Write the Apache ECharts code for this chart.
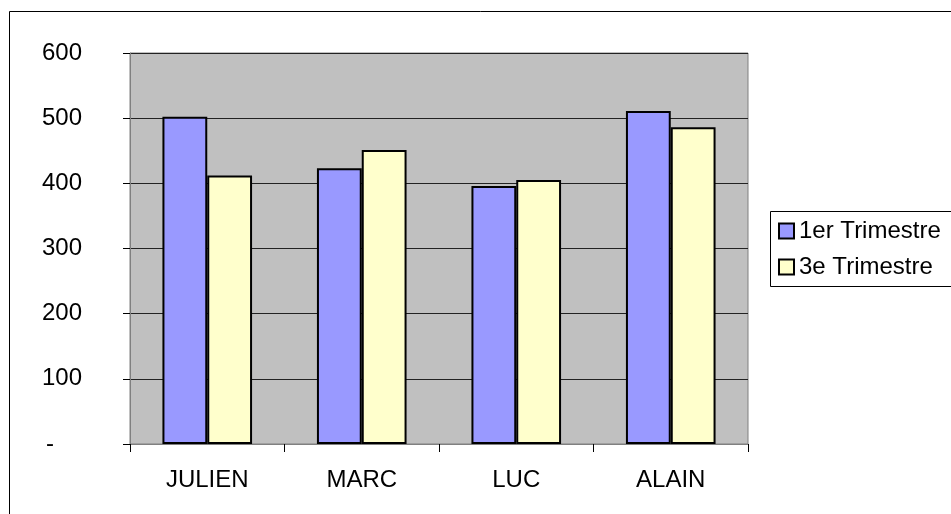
<!DOCTYPE html>
<html>
<head>
<meta charset="utf-8">
<script src="https://cdn.jsdelivr.net/npm/echarts@6/dist/echarts.min.js"></script>
<style>html,body{margin:0;padding:0;background:#fff}#c{width:951px;height:514px}</style>
</head>
<body>
<div id="c"></div>
<script>
var categories = ['JULIEN', 'MARC', 'LUC', 'ALAIN'];
var trim1 = [502, 423, 396, 511];
var trim3 = [412, 451, 405, 486];
var seriesNames = ['1er Trimestre', '3e Trimestre'];
var yTicks = [0, 100, 200, 300, 400, 500, 600];

var chart = echarts.init(document.getElementById('c'), null, {renderer: 'canvas'});
var font = 'Liberation Sans, Arial, sans-serif';
chart.setOption({
  animation: false,
  backgroundColor: '#ffffff',
  textStyle: {fontFamily: font},
  graphic: [
    {type: 'rect', shape: {x: 9.5, y: 11.5, width: 1000, height: 600}, style: {fill: 'none', stroke: '#000', lineWidth: 1}, z: -1},
    {type: 'rect', shape: {x: 770.5, y: 211.5, width: 300, height: 75}, style: {fill: '#fff', stroke: '#000', lineWidth: 1}, z: 1}
  ],
  grid: {left: 130, top: 53, width: 618, height: 391, show: true, backgroundColor: '#C0C0C0', borderColor: '#808080', borderWidth: 1},
  legend: {
    orient: 'vertical', left: 778, top: 219, padding: 0, itemWidth: 15, itemHeight: 15, itemGap: 12, itemTextGap: 5,
    icon: 'rect',
    textStyle: {fontSize: 24, color: '#000', fontFamily: font},
    z: 5,
    data: seriesNames
  },
  xAxis: {
    type: 'category', data: categories,
    axisLine: {lineStyle: {color: '#808080', width: 1}},
    axisTick: {show: true, length: 8, lineStyle: {color: '#000'}},
    axisLabel: {fontSize: 24, color: '#000', margin: 24, fontFamily: font}
  },
  yAxis: {
    type: 'value', min: 0, max: 600, interval: 100,
    axisLine: {show: true, lineStyle: {color: '#808080'}},
    axisTick: {show: true, length: 7, lineStyle: {color: '#000'}},
    splitLine: {lineStyle: {color: '#222', width: 1}},
    axisLabel: {
      fontSize: 24, color: '#000', margin: 48, fontFamily: font,
      formatter: function (v) { return v === 0 ? '{d|-}' : String(v); },
      rich: {d: {fontSize: 24, color: '#000', padding: [0, 28, 0, 0], fontFamily: font}}
    }
  },
  series: [
    {name: seriesNames[0], type: 'bar', data: trim1, barGap: '0%', barCategoryGap: '42%',
     itemStyle: {color: '#9999FF', borderColor: '#000', borderWidth: 2}},
    {name: seriesNames[1], type: 'bar', data: trim3, barGap: '0%', barCategoryGap: '42%',
     itemStyle: {color: '#FFFFCC', borderColor: '#000', borderWidth: 2}}
  ]
});
</script>
</body>
</html>
